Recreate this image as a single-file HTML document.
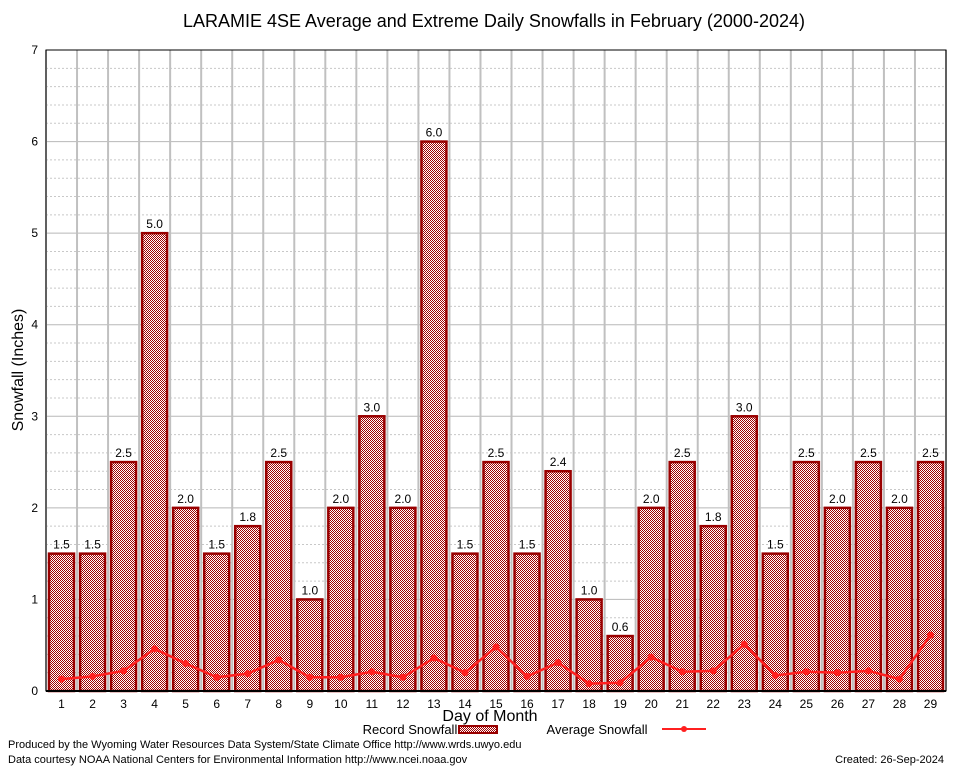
<!DOCTYPE html>
<html><head><meta charset="utf-8"><style>
body{margin:0;background:#fff;}
svg text{font-family:"Liberation Sans","DejaVu Sans",sans-serif;}
</style></head><body>
<svg id="c" width="954" height="768" xmlns="http://www.w3.org/2000/svg">
<defs><pattern id="chk" width="2" height="2" patternUnits="userSpaceOnUse"><rect width="2" height="2" fill="#fff"/><rect width="1" height="1" fill="#a00000"/><rect x="1" y="1" width="1" height="1" fill="#a00000"/></pattern></defs>
<rect width="954" height="768" fill="#fff"/>
<text x="494" y="27" font-size="18" text-anchor="middle">LARAMIE 4SE Average and Extreme Daily Snowfalls in February (2000-2024)</text>
<g id="grid"></g><g id="bars"></g><g id="line"></g><g id="axes"></g>
<text transform="translate(23,370) rotate(-90)" font-size="16" text-anchor="middle">Snowfall (Inches)</text>
<text x="490" y="721" font-size="16" text-anchor="middle">Day of Month</text>
<g>
<text x="410" y="734" font-size="13" text-anchor="middle">Record Snowfall</text>
<rect x="459" y="726" width="38" height="7" fill="url(#chk)" stroke="#990000" stroke-width="2"/>
<text x="597" y="734" font-size="13" text-anchor="middle">Average Snowfall</text>
<line x1="662" y1="729" x2="706" y2="729" stroke="#ff2020" stroke-width="2"/>
<circle cx="684" cy="729" r="3" fill="#ff2020"/>
</g>
<text x="8" y="748" font-size="11">Produced by the Wyoming Water Resources Data System/State Climate Office http://www.wrds.uwyo.edu</text>
<text x="8" y="763" font-size="11">Data courtesy NOAA National Centers for Environmental Information http://www.ncei.noaa.gov</text>
<text x="944" y="763" font-size="11" text-anchor="end">Created: 26-Sep-2024</text>
</svg>
<script>
const days=[1,2,3,4,5,6,7,8,9,10,11,12,13,14,15,16,17,18,19,20,21,22,23,24,25,26,27,28,29];
const records=[1.5,1.5,2.5,5.0,2.0,1.5,1.8,2.5,1.0,2.0,3.0,2.0,6.0,1.5,2.5,1.5,2.4,1.0,0.6,2.0,2.5,1.8,3.0,1.5,2.5,2.0,2.5,2.0,2.5];
const averages=[0.13,0.16,0.22,0.46,0.30,0.15,0.19,0.34,0.15,0.15,0.21,0.15,0.36,0.20,0.48,0.16,0.31,0.08,0.09,0.37,0.21,0.22,0.51,0.17,0.21,0.20,0.22,0.13,0.61];
const yTicks=[0,1,2,3,4,5,6,7];
const NS="http://www.w3.org/2000/svg";
const L=46,R=946,T=50,B=691,yMax=7;
const slot=(R-L)/days.length;
const xC=i=>L+slot*(i+0.5);
const y=v=>B-(v/yMax)*(B-T);
function mk(tag,attrs,parent,txt){const e=document.createElementNS(NS,tag);for(const k in attrs)e.setAttribute(k,attrs[k]);if(txt!==undefined)e.textContent=txt;parent.appendChild(e);return e;}
const grid=document.getElementById('grid'),bars=document.getElementById('bars'),line=document.getElementById('line'),axes=document.getElementById('axes');
for(let v=0;v<=yMax+1e-9;v+=0.2){const major=Math.abs(v-Math.round(v))<1e-6;
 const g=mk('line',{x1:L,x2:R,y1:y(v),y2:y(v),stroke:major?'#b8b8b8':'#c8c8c8','stroke-width':1,'stroke-dasharray':major?'':'2,2'},grid);
 
 }
for(let i=0;i<=days.length;i++){const g=mk('line',{x1:L+slot*i,x2:L+slot*i,y1:T,y2:B,stroke:'#c0c0c0','stroke-width':2},grid);
 
 }
days.forEach((d,i)=>{const w=25;const r=mk('rect',{x:xC(i)-w/2,y:y(records[i]),width:w,height:B-y(records[i]),fill:'url(#chk)',stroke:'#990000','stroke-width':2.5},bars);
 
 
 const t=mk('text',{x:xC(i),y:y(records[i])-5,'font-size':12,'text-anchor':'middle'},bars,records[i].toFixed(1));
 
 
 const xl=mk('text',{x:xC(i),y:B+17,'font-size':12,'text-anchor':'middle','font-family':'Liberation Serif, serif'},axes,String(d));
 
 });
const pts=averages.map((v,i)=>xC(i)+','+y(v)).join(' ');
const pl=mk('polyline',{points:pts,fill:'none',stroke:'#ff2020','stroke-width':2.5},line);


averages.forEach((v,i)=>{const c=mk('circle',{cx:xC(i),cy:y(v),r:3.5,fill:'#ff2020'},line);
 
 });
const fr=mk('rect',{x:L,y:T,width:R-L,height:B-T,fill:'none',stroke:'#000','stroke-width':1},axes);


const xa=mk('line',{x1:L,x2:R,y1:B,y2:B,stroke:'#000','stroke-width':2},axes);


yTicks.forEach(v=>{const t=mk('text',{x:L-8,y:y(v)+4,'font-size':12,'text-anchor':'end','font-family':'Liberation Serif, serif'},axes,String(v));
 
 });
</script>
</body></html>
